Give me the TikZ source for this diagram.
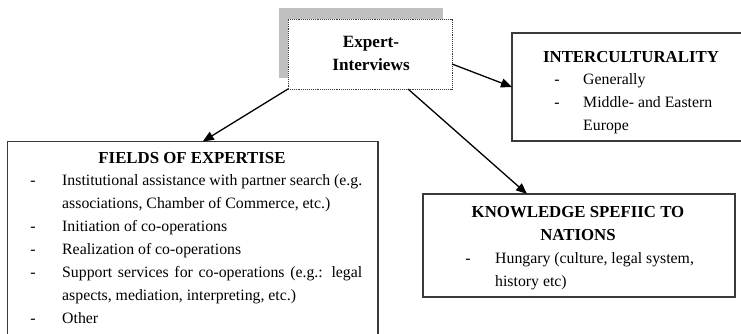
\documentclass[tikz,border=0pt]{standalone}
\usepackage{fontspec}
\setmainfont{Liberation Serif}
\usetikzlibrary{arrows.meta}
\definecolor{boxgray}{HTML}{3A3A3A}
\definecolor{shadowgray}{HTML}{C0C0C0}
\begin{document}
\begin{tikzpicture}[x=1pt,y=-1pt,
  box/.style={draw=boxgray,line width=1.3pt,inner sep=0pt,outer sep=0pt},
  txt/.style={anchor=base west,inner sep=0pt,font=\fontsize{15.8}{18}\selectfont},
  dsh/.style={anchor=base,inner sep=0pt,font=\fontsize{15.8}{18}\selectfont},
  ttl/.style={anchor=base,inner sep=0pt,font=\fontsize{16.8}{19}\selectfont\bfseries},
  arr/.style={-{Triangle[length=11pt,width=9pt]},line width=1.3pt,black}]
\useasboundingbox (0,0) rectangle (741,334);
\clip (0,0) rectangle (741,334);
% expert box with shadow
\node[fill=shadowgray,inner sep=0pt,outer sep=0pt,minimum width=164pt,minimum height=70pt] (shadow) at (361,43) {};
\node[fill=white,draw=boxgray,densely dotted,line width=0.9pt,inner sep=0pt,outer sep=0pt,minimum width=164pt,minimum height=70pt] (expert) at (370,54) {};
\node[ttl,font=\fontsize{17.2}{19}\selectfont\bfseries] (e1) at (371,48) {Expert-};
\node[ttl,font=\fontsize{17.2}{19}\selectfont\bfseries] (e2) at (371,71) {Interviews};
% interculturality
\node[box,minimum width=248pt,minimum height=108pt] (inter) at (636,87) {};
\node[ttl] (it) at (631,63) {INTERCULTURALITY};
\node[dsh] (id1) at (557,85) {-};
\node[txt] (i1) at (583,85) {Generally};
\node[dsh] (id2) at (557,108) {-};
\node[txt] (i2) at (583,108) {Middle- and Eastern};
\node[txt] (i3) at (583,131) {Europe};
% fields
\node[box,minimum width=370.5pt,minimum height=230pt] (fields) at (192.75,256.5) {};
\node[ttl] (ft) at (192,163) {FIELDS OF EXPERTISE};
\node[dsh] (fd1) at (33,185) {-};
\node[txt] (f1) at (62,185) {\makebox[300pt][s]{Institutional assistance with partner search (e.g.}};
\node[txt] (f2) at (62,208) {associations, Chamber of Commerce, etc.)};
\node[dsh] (fd3) at (33,231) {-};
\node[txt] (f3) at (62,231) {Initiation of co-operations};
\node[dsh] (fd4) at (33,254) {-};
\node[txt] (f4) at (62,254) {Realization of co-operations};
\node[dsh] (fd5) at (33,277) {-};
\node[txt] (f5) at (62,277) {\makebox[300pt][s]{Support services for co-operations (e.g.: legal}};
\node[txt] (f6) at (62,300) {aspects, mediation, interpreting, etc.)};
\node[dsh] (fd7) at (33,323) {-};
\node[txt] (f7) at (62,323) {Other};
% knowledge
\node[box,minimum width=312pt,minimum height=103pt] (know) at (579,245.5) {};
\node[ttl] (kt1) at (578,217) {KNOWLEDGE SPEFIIC TO};
\node[ttl] (kt2) at (578,240) {NATIONS};
\node[dsh] (kd1) at (468,263) {-};
\node[txt] (k1) at (495,263) {Hungary (culture, legal system,};
\node[txt] (k2) at (495,286) {history etc)};
% arrows
\draw[arr] (expert.south west) -- ([xshift=10pt]fields.north);
\draw[arr] ([xshift=38pt]expert.south) -- ([xshift=-52pt]know.north);
\draw[arr] ([yshift=-10pt]expert.east) -- (inter.west);
\end{tikzpicture}
\end{document}
